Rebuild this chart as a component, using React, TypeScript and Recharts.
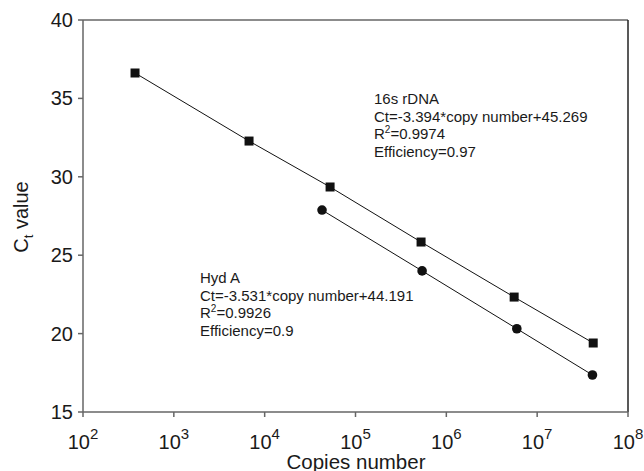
import React from "react";
import {
  ScatterChart,
  Scatter,
  XAxis,
  YAxis,
  ReferenceLine,
  Customized,
} from "recharts";

const rdnaCopies = [374, 6730, 52500, 527000, 5580000, 41400000];
const rdnaCt = [36.62, 32.28, 29.35, 25.84, 22.33, 19.4];
const hydCopies = [42800, 541000, 5970000, 40600000];
const hydCt = [27.88, 24.0, 20.31, 17.36];
const xTicks = [1e2, 1e3, 1e4, 1e5, 1e6, 1e7, 1e8];
const yTicks = [15, 20, 25, 30, 35, 40];
const rdnaText = ["16s rDNA", "Ct=-3.394*copy number+45.269", "0.9974", "Efficiency=0.97"];
const hydText = ["Hyd A", "Ct=-3.531*copy number+44.191", "0.9926", "Efficiency=0.9"];

const rdnaData = rdnaCopies.map((x, i) => ({ x, y: rdnaCt[i] }));
const hydData = hydCopies.map((x, i) => ({ x, y: hydCt[i] }));

const FONT = "'Liberation Sans', Arial, sans-serif";
const TXT = "#1a1a1a";

const XTick = (props: any) => {
  const { x, y, payload } = props;
  const exp = Math.round(Math.log10(payload.value));
  return (
    <text x={x} y={y + 30} textAnchor="middle" fontFamily={FONT} fontSize={20} fill={TXT}>
      10
      <tspan dy={-10} fontSize={15}>{exp}</tspan>
    </text>
  );
};

const YTick = (props: any) => {
  const { x, y, payload } = props;
  return (
    <text x={x - 3} y={y + 7} textAnchor="end" fontFamily={FONT} fontSize={20} fill={TXT}>
      {payload.value}
    </text>
  );
};

const Block = ({ x, y, lines }: { x: number; y: number; lines: string[] }) => (
  <g fontFamily={FONT} fontSize={15} fill={TXT}>
    <text x={x} y={y}>{lines[0]}</text>
    <text x={x} y={y + 17.5}>{lines[1]}</text>
    <text x={x} y={y + 35}>
      R<tspan dy={-6} fontSize={10}>2</tspan>
      <tspan dy={6}>={lines[2]}</tspan>
    </text>
    <text x={x} y={y + 52.5}>{lines[3]}</text>
  </g>
);

const Annotations = () => (
  <g>
    <Block x={374} y={104} lines={rdnaText} />
    <Block x={200} y={283} lines={hydText} />
    <text
      transform="translate(28,217) rotate(-90)"
      textAnchor="middle"
      fontFamily={FONT}
      fontSize={20}
      fill={TXT}
    >
      C<tspan dy={5} fontSize={13}>t</tspan>
      <tspan dy={-5}> value</tspan>
    </text>
    <text x={356} y={469} textAnchor="middle" fontFamily={FONT} fontSize={20.5} fill={TXT}>
      Copies number
    </text>
  </g>
);

const Square = (props: any) => {
  const { cx, cy } = props;
  return <rect x={cx - 4.5} y={cy - 4.5} width={9} height={9} fill="#111" />;
};
const Dot = (props: any) => {
  const { cx, cy } = props;
  return <circle cx={cx} cy={cy} r={4.8} fill="#111" />;
};

export default function App() {
  return (
    <div style={{ position: "absolute", left: 0, top: 0, background: "#fff" }}>
      <ScatterChart
        width={644}
        height={471}
        margin={{ top: 20, right: 16, bottom: 0, left: 0 }}
      >
        <XAxis
          type="number"
          dataKey="x"
          scale="log"
          domain={[100, 1e8]}
          ticks={xTicks}
          allowDataOverflow
          height={59}
          stroke="#666"
          strokeWidth={1.5}
          tickSize={5}
          tick={<XTick />}
          interval={0}
        />
        <YAxis
          type="number"
          dataKey="y"
          domain={[15, 40]}
          ticks={yTicks}
          width={83}
          stroke="#666"
          strokeWidth={1.5}
          tickSize={5}
          tick={<YTick />}
          interval={0}
        />
        <ReferenceLine y={40} stroke="#666" strokeWidth={1.5} />
        <ReferenceLine x={1e8} stroke="#222" strokeWidth={1.5} />
        <Scatter
          data={rdnaData}
          line={{ stroke: "#111", strokeWidth: 1 }}
          lineType="joint"
          shape={<Square />}
          isAnimationActive={false}
        />
        <Scatter
          data={hydData}
          line={{ stroke: "#111", strokeWidth: 1 }}
          lineType="joint"
          shape={<Dot />}
          isAnimationActive={false}
        />
        <Customized component={<Annotations />} />
      </ScatterChart>
    </div>
  );
}
